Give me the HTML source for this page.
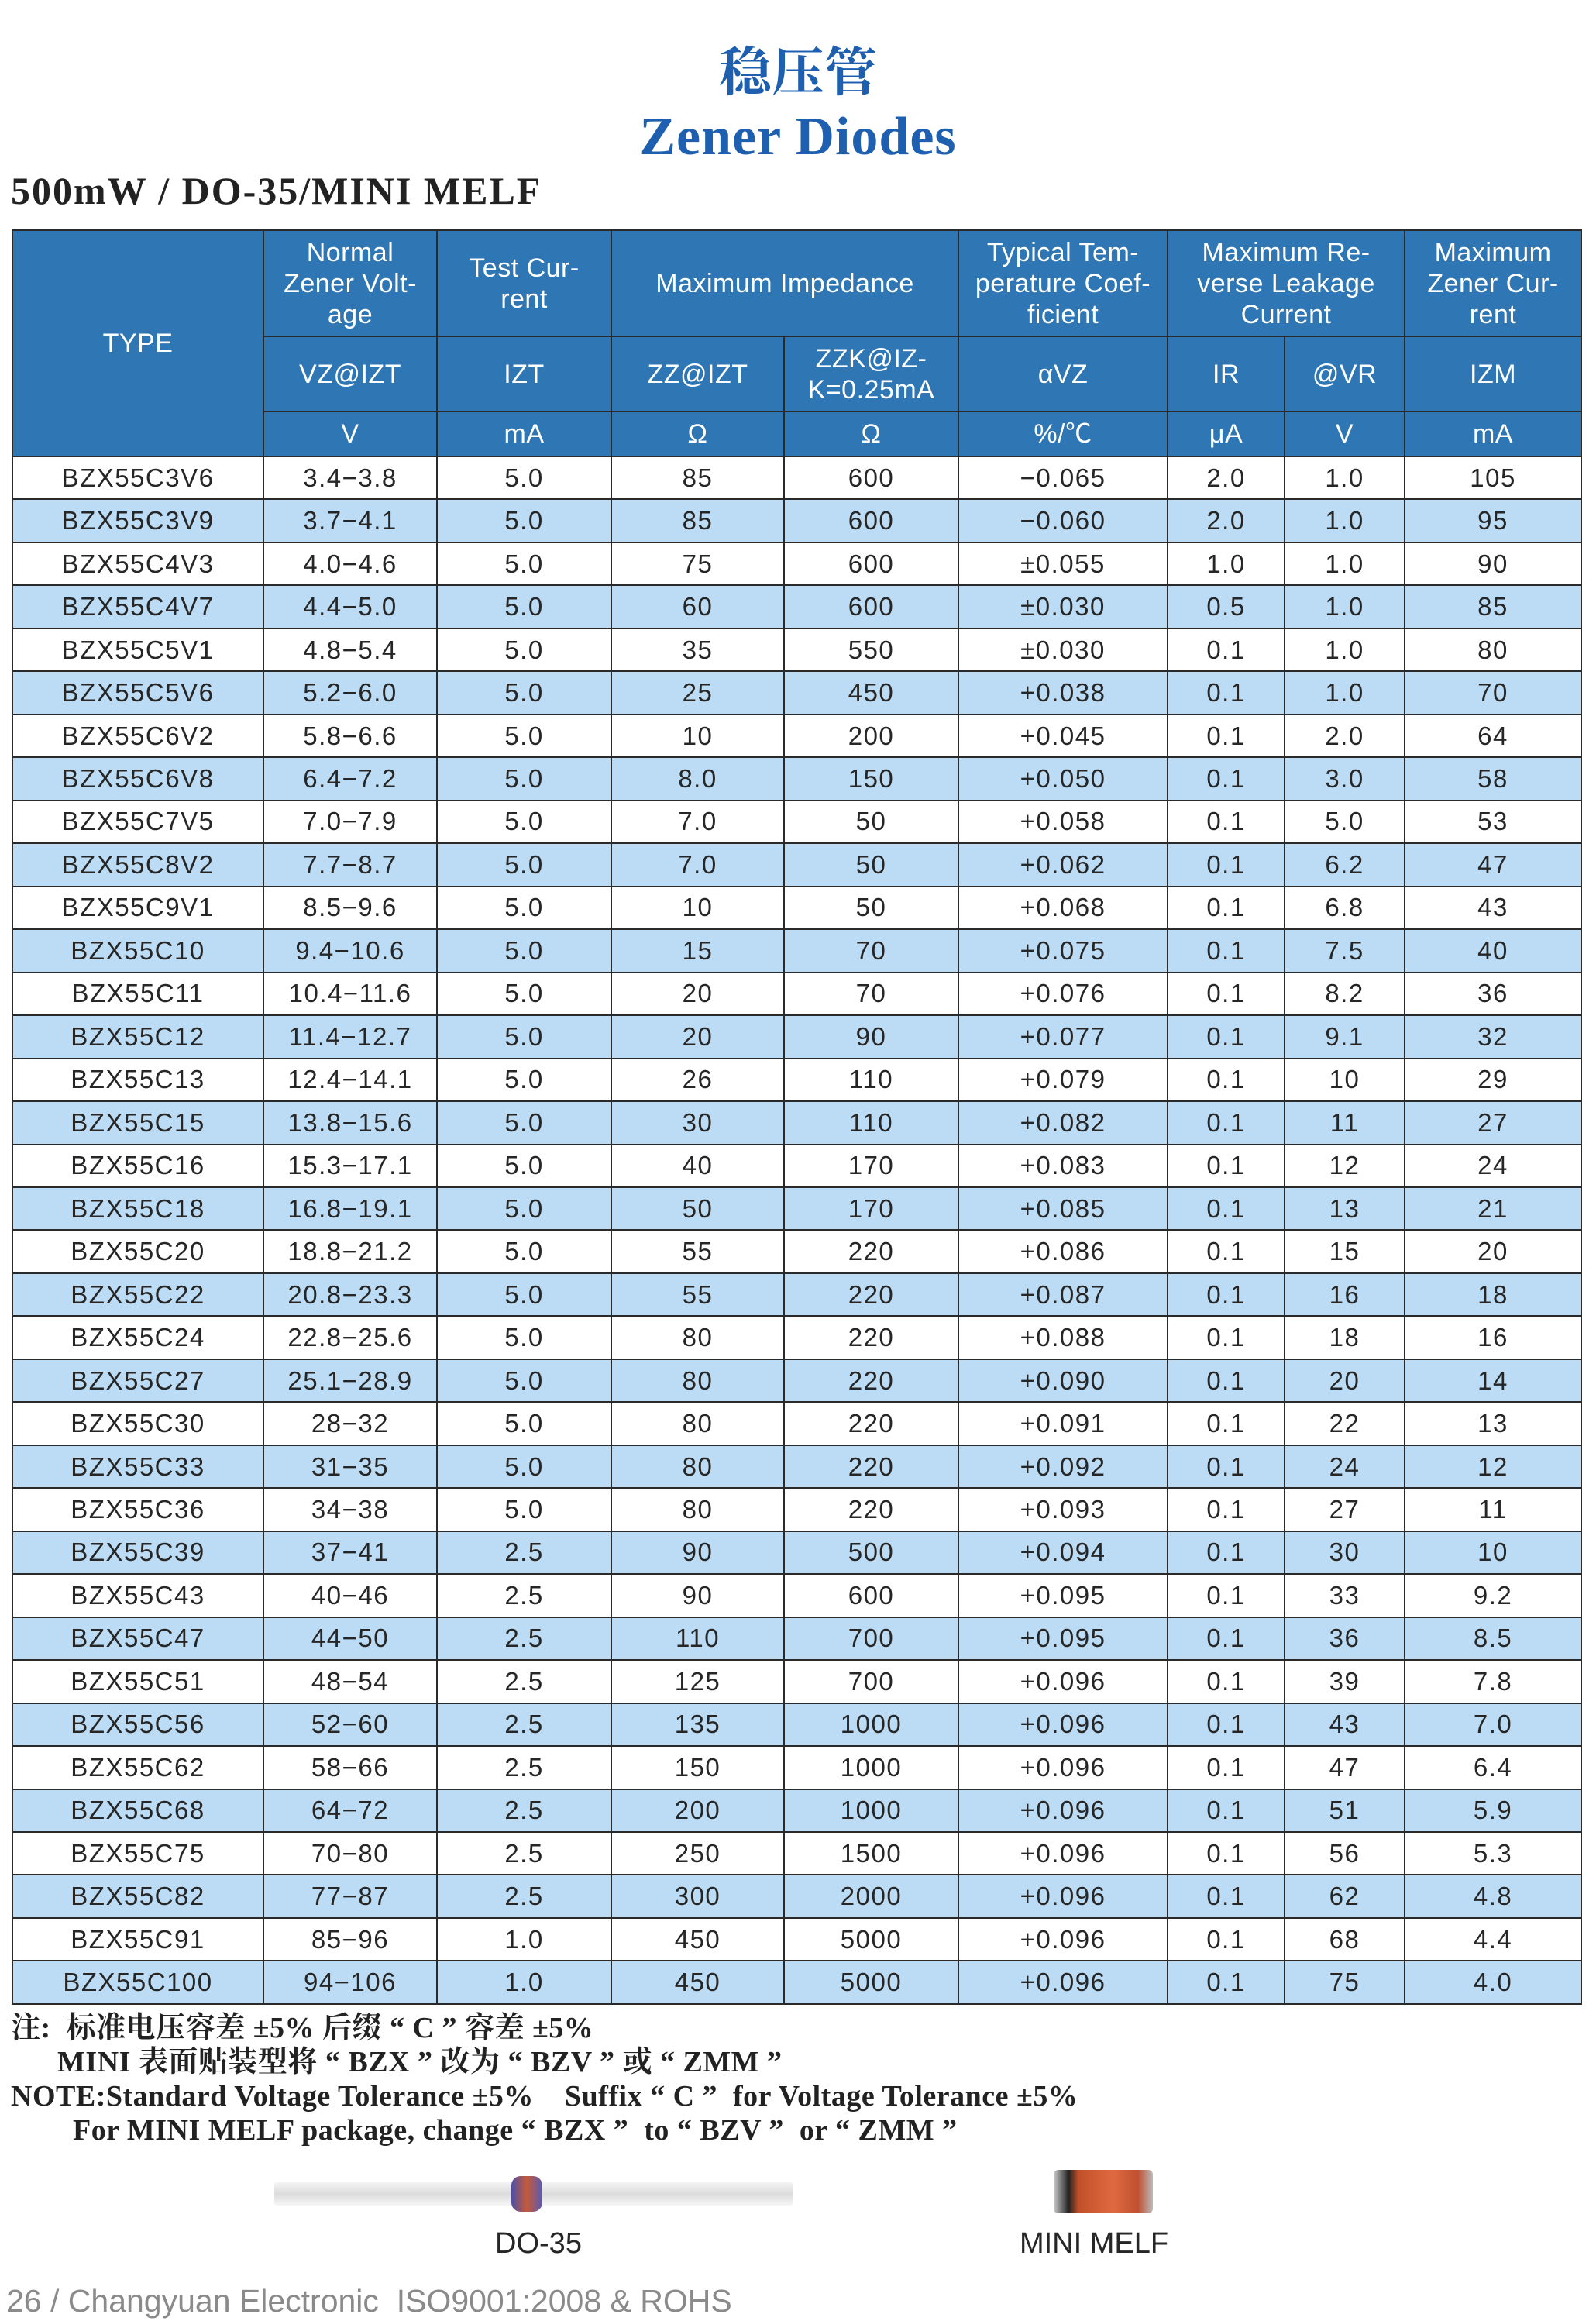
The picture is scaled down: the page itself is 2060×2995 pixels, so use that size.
<!DOCTYPE html>
<html><head><meta charset="utf-8"><style>
body{margin:0;width:2060px;height:2995px;background:#fff;position:relative;overflow:hidden;font-family:"Liberation Sans","Noto Sans CJK SC",sans-serif}
.abs{position:absolute}
table{position:absolute;left:15px;top:296px;border-collapse:collapse;table-layout:fixed;width:2025px}
td{border:2px solid #2a2a2a;text-align:center;padding:0;color:#262626;font-size:33px;letter-spacing:1.5px;overflow:hidden;white-space:nowrap}
thead td{background:#2e76b4;color:#fff;font-size:34px;letter-spacing:0.5px;line-height:40px}
tbody tr{height:55.47px}
tbody tr:nth-child(even) td{background:#bbdcf4}
.serif{font-family:"Liberation Serif","Noto Serif CJK SC",serif;font-weight:bold}
</style></head><body>
<div class="abs serif" style="left:0;width:2060px;top:56px;text-align:center;font-size:68px;color:#1e5fb0;line-height:76px">稳压管</div>
<div class="abs serif" style="left:0;width:2060px;top:138px;text-align:center;font-size:70px;color:#1e5fb0;line-height:78px;letter-spacing:1px">Zener Diodes</div>
<div class="abs serif" style="left:14px;top:218px;font-size:50px;color:#222;line-height:56px;letter-spacing:2px">500mW / DO-35/MINI MELF</div>
<table>
<colgroup><col style="width:324px"><col style="width:224px"><col style="width:225px"><col style="width:223px"><col style="width:225px"><col style="width:270px"><col style="width:151px"><col style="width:155px"><col style="width:228px"></colgroup>
<thead>
<tr style="height:137px"><td rowspan="3">TYPE</td><td>Normal<br>Zener Volt-<br>age</td><td>Test Cur-<br>rent</td><td colspan="2">Maximum Impedance</td><td>Typical Tem-<br>perature Coef-<br>ficient</td><td colspan="2">Maximum Re-<br>verse Leakage<br>Current</td><td>Maximum<br>Zener Cur-<br>rent</td></tr>
<tr style="height:97px"><td>VZ@IZT</td><td>IZT</td><td>ZZ@IZT</td><td>ZZK@IZ-<br>K=0.25mA</td><td>αVZ</td><td>IR</td><td>@VR</td><td>IZM</td></tr>
<tr style="height:58px"><td>V</td><td>mA</td><td>Ω</td><td>Ω</td><td>%/℃</td><td>μA</td><td>V</td><td>mA</td></tr>
</thead>
<tbody>
<tr><td>BZX55C3V6</td><td>3.4−3.8</td><td>5.0</td><td>85</td><td>600</td><td>−0.065</td><td>2.0</td><td>1.0</td><td>105</td></tr>
<tr><td>BZX55C3V9</td><td>3.7−4.1</td><td>5.0</td><td>85</td><td>600</td><td>−0.060</td><td>2.0</td><td>1.0</td><td>95</td></tr>
<tr><td>BZX55C4V3</td><td>4.0−4.6</td><td>5.0</td><td>75</td><td>600</td><td>±0.055</td><td>1.0</td><td>1.0</td><td>90</td></tr>
<tr><td>BZX55C4V7</td><td>4.4−5.0</td><td>5.0</td><td>60</td><td>600</td><td>±0.030</td><td>0.5</td><td>1.0</td><td>85</td></tr>
<tr><td>BZX55C5V1</td><td>4.8−5.4</td><td>5.0</td><td>35</td><td>550</td><td>±0.030</td><td>0.1</td><td>1.0</td><td>80</td></tr>
<tr><td>BZX55C5V6</td><td>5.2−6.0</td><td>5.0</td><td>25</td><td>450</td><td>+0.038</td><td>0.1</td><td>1.0</td><td>70</td></tr>
<tr><td>BZX55C6V2</td><td>5.8−6.6</td><td>5.0</td><td>10</td><td>200</td><td>+0.045</td><td>0.1</td><td>2.0</td><td>64</td></tr>
<tr><td>BZX55C6V8</td><td>6.4−7.2</td><td>5.0</td><td>8.0</td><td>150</td><td>+0.050</td><td>0.1</td><td>3.0</td><td>58</td></tr>
<tr><td>BZX55C7V5</td><td>7.0−7.9</td><td>5.0</td><td>7.0</td><td>50</td><td>+0.058</td><td>0.1</td><td>5.0</td><td>53</td></tr>
<tr><td>BZX55C8V2</td><td>7.7−8.7</td><td>5.0</td><td>7.0</td><td>50</td><td>+0.062</td><td>0.1</td><td>6.2</td><td>47</td></tr>
<tr><td>BZX55C9V1</td><td>8.5−9.6</td><td>5.0</td><td>10</td><td>50</td><td>+0.068</td><td>0.1</td><td>6.8</td><td>43</td></tr>
<tr><td>BZX55C10</td><td>9.4−10.6</td><td>5.0</td><td>15</td><td>70</td><td>+0.075</td><td>0.1</td><td>7.5</td><td>40</td></tr>
<tr><td>BZX55C11</td><td>10.4−11.6</td><td>5.0</td><td>20</td><td>70</td><td>+0.076</td><td>0.1</td><td>8.2</td><td>36</td></tr>
<tr><td>BZX55C12</td><td>11.4−12.7</td><td>5.0</td><td>20</td><td>90</td><td>+0.077</td><td>0.1</td><td>9.1</td><td>32</td></tr>
<tr><td>BZX55C13</td><td>12.4−14.1</td><td>5.0</td><td>26</td><td>110</td><td>+0.079</td><td>0.1</td><td>10</td><td>29</td></tr>
<tr><td>BZX55C15</td><td>13.8−15.6</td><td>5.0</td><td>30</td><td>110</td><td>+0.082</td><td>0.1</td><td>11</td><td>27</td></tr>
<tr><td>BZX55C16</td><td>15.3−17.1</td><td>5.0</td><td>40</td><td>170</td><td>+0.083</td><td>0.1</td><td>12</td><td>24</td></tr>
<tr><td>BZX55C18</td><td>16.8−19.1</td><td>5.0</td><td>50</td><td>170</td><td>+0.085</td><td>0.1</td><td>13</td><td>21</td></tr>
<tr><td>BZX55C20</td><td>18.8−21.2</td><td>5.0</td><td>55</td><td>220</td><td>+0.086</td><td>0.1</td><td>15</td><td>20</td></tr>
<tr><td>BZX55C22</td><td>20.8−23.3</td><td>5.0</td><td>55</td><td>220</td><td>+0.087</td><td>0.1</td><td>16</td><td>18</td></tr>
<tr><td>BZX55C24</td><td>22.8−25.6</td><td>5.0</td><td>80</td><td>220</td><td>+0.088</td><td>0.1</td><td>18</td><td>16</td></tr>
<tr><td>BZX55C27</td><td>25.1−28.9</td><td>5.0</td><td>80</td><td>220</td><td>+0.090</td><td>0.1</td><td>20</td><td>14</td></tr>
<tr><td>BZX55C30</td><td>28−32</td><td>5.0</td><td>80</td><td>220</td><td>+0.091</td><td>0.1</td><td>22</td><td>13</td></tr>
<tr><td>BZX55C33</td><td>31−35</td><td>5.0</td><td>80</td><td>220</td><td>+0.092</td><td>0.1</td><td>24</td><td>12</td></tr>
<tr><td>BZX55C36</td><td>34−38</td><td>5.0</td><td>80</td><td>220</td><td>+0.093</td><td>0.1</td><td>27</td><td>11</td></tr>
<tr><td>BZX55C39</td><td>37−41</td><td>2.5</td><td>90</td><td>500</td><td>+0.094</td><td>0.1</td><td>30</td><td>10</td></tr>
<tr><td>BZX55C43</td><td>40−46</td><td>2.5</td><td>90</td><td>600</td><td>+0.095</td><td>0.1</td><td>33</td><td>9.2</td></tr>
<tr><td>BZX55C47</td><td>44−50</td><td>2.5</td><td>110</td><td>700</td><td>+0.095</td><td>0.1</td><td>36</td><td>8.5</td></tr>
<tr><td>BZX55C51</td><td>48−54</td><td>2.5</td><td>125</td><td>700</td><td>+0.096</td><td>0.1</td><td>39</td><td>7.8</td></tr>
<tr><td>BZX55C56</td><td>52−60</td><td>2.5</td><td>135</td><td>1000</td><td>+0.096</td><td>0.1</td><td>43</td><td>7.0</td></tr>
<tr><td>BZX55C62</td><td>58−66</td><td>2.5</td><td>150</td><td>1000</td><td>+0.096</td><td>0.1</td><td>47</td><td>6.4</td></tr>
<tr><td>BZX55C68</td><td>64−72</td><td>2.5</td><td>200</td><td>1000</td><td>+0.096</td><td>0.1</td><td>51</td><td>5.9</td></tr>
<tr><td>BZX55C75</td><td>70−80</td><td>2.5</td><td>250</td><td>1500</td><td>+0.096</td><td>0.1</td><td>56</td><td>5.3</td></tr>
<tr><td>BZX55C82</td><td>77−87</td><td>2.5</td><td>300</td><td>2000</td><td>+0.096</td><td>0.1</td><td>62</td><td>4.8</td></tr>
<tr><td>BZX55C91</td><td>85−96</td><td>1.0</td><td>450</td><td>5000</td><td>+0.096</td><td>0.1</td><td>68</td><td>4.4</td></tr>
<tr><td>BZX55C100</td><td>94−106</td><td>1.0</td><td>450</td><td>5000</td><td>+0.096</td><td>0.1</td><td>75</td><td>4.0</td></tr>
</tbody></table>
<div class="abs serif" style="left:14px;top:2595px;font-size:38px;color:#222;line-height:44px;white-space:pre;letter-spacing:0.5px">注:  标准电压容差 ±5% 后缀 “ C ” 容差 ±5%
      MINI 表面贴装型将 “ BZX ” 改为 “ BZV ” 或 “ ZMM ”</div>
<div class="abs serif" style="left:14px;top:2683px;font-size:38px;color:#222;line-height:44px;white-space:pre;letter-spacing:0.5px">NOTE:Standard Voltage Tolerance ±5%    Suffix “ C ”  for Voltage Tolerance ±5%
        For MINI MELF package, change “ BZX ”  to “ BZV ”  or “ ZMM ”</div>
<div class="abs" style="left:354px;top:2816px;width:670px;height:30px;background:linear-gradient(#f4f4f4,#dcdcdc,#f6f6f6);border-radius:4px"></div>
<div class="abs" style="left:660px;top:2808px;width:40px;height:46px;border-radius:12px;background:linear-gradient(90deg,#4a50a8,#c65a3a,#5a5ab0)"></div>
<div class="abs" style="left:1360px;top:2800px;width:128px;height:56px;border-radius:6px;background:linear-gradient(90deg,#ccc,#222 15%,#c0502a 25%,#e06a40 60%,#c05030 85%,#bbb)"></div>
<div class="abs" style="left:595px;top:2874px;width:200px;text-align:center;font-size:38px;color:#262626">DO-35</div>
<div class="abs" style="left:1262px;top:2874px;width:300px;text-align:center;font-size:38px;color:#262626">MINI MELF</div>
<div class="abs" style="left:8px;top:2946px;font-size:41px;color:#8a8a8a;white-space:pre">26 / Changyuan Electronic  ISO9001:2008 &amp; ROHS</div>
</body></html>
